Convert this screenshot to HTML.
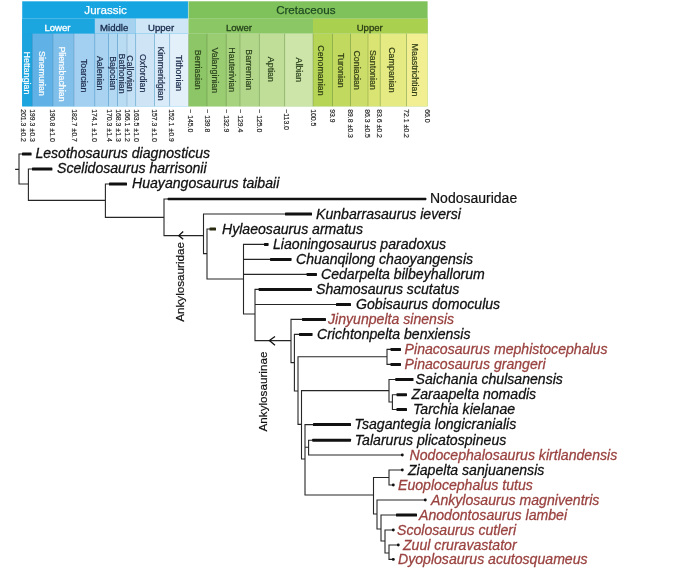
<!DOCTYPE html>
<html lang="en"><head><meta charset="utf-8"><title>Ankylosaur phylogeny</title>
<style>
html,body{margin:0;padding:0;background:#fff;}
body{width:700px;height:574px;overflow:hidden;}
svg{display:block;font-family:"Liberation Sans",Arial,sans-serif;}
.tx{font-size:14.1px;font-style:italic;stroke-width:0.28px;}
.nd{font-size:14px;fill:#111;stroke:#111;stroke-width:0.2px;}
.cl{font-size:11.7px;fill:#111;stroke:#111;stroke-width:0.2px;}
.pe{font-size:11.6px;stroke-width:0.25px;}
.ep{font-size:9.6px;stroke-width:0.3px;}
.st{font-size:8.9px;stroke-width:0.2px;}
.nm{font-size:6.9px;fill:#222;stroke:#222;stroke-width:0.15px;}
</style></head><body>
<svg width="700" height="574" viewBox="0 0 700 574">
<rect width="700" height="574" fill="#fff"/>
<rect x="22.2" y="1.3" width="166.20000000000002" height="105.0" fill="#17a5e1"/>
<rect x="188.4" y="1.3" width="239.20000000000002" height="105.0" fill="#7fc15b"/>
<rect x="22.2" y="18.6" width="72.6" height="15.0" fill="#1ca6e0"/>
<rect x="94.8" y="18.6" width="40.9" height="15.0" fill="#a6d2ef"/>
<rect x="135.7" y="18.6" width="52.7" height="15.0" fill="#cfe6f6"/>
<rect x="188.4" y="18.6" width="124.6" height="15.0" fill="#8cc765"/>
<rect x="313" y="18.6" width="114.6" height="15.0" fill="#a9d04f"/>
<rect x="22.2" y="33.6" width="10.0" height="72.7" fill="#1ca4de"/>
<rect x="32.2" y="33.6" width="20.8" height="72.7" fill="#60b2e6"/>
<rect x="53" y="33.6" width="21.0" height="72.7" fill="#81bfeb"/>
<rect x="74" y="33.6" width="20.8" height="72.7" fill="#a3cff0"/>
<rect x="94.8" y="33.6" width="13.6" height="72.7" fill="#a9d3f0"/>
<rect x="108.4" y="33.6" width="9.1" height="72.7" fill="#b2d8f2"/>
<rect x="117.5" y="33.6" width="9.5" height="72.7" fill="#badcf3"/>
<rect x="127" y="33.6" width="8.7" height="72.7" fill="#c3e0f4"/>
<rect x="135.7" y="33.6" width="18.9" height="72.7" fill="#cfe5f6"/>
<rect x="154.6" y="33.6" width="15.1" height="72.7" fill="#d9ebf8"/>
<rect x="169.7" y="33.6" width="18.7" height="72.7" fill="#e3f0fa"/>
<rect x="188.4" y="33.6" width="18.6" height="72.7" fill="#8dc666"/>
<rect x="207" y="33.6" width="19.2" height="72.7" fill="#9acc72"/>
<rect x="226.2" y="33.6" width="13.8" height="72.7" fill="#a7d27e"/>
<rect x="240" y="33.6" width="19.3" height="72.7" fill="#b3d78a"/>
<rect x="259.3" y="33.6" width="25.4" height="72.7" fill="#c1de99"/>
<rect x="284.7" y="33.6" width="28.3" height="72.7" fill="#cee5aa"/>
<rect x="313" y="33.6" width="19.4" height="72.7" fill="#b6d557"/>
<rect x="332.4" y="33.6" width="18.1" height="72.7" fill="#c1d95f"/>
<rect x="350.5" y="33.6" width="17.5" height="72.7" fill="#ccde69"/>
<rect x="368" y="33.6" width="12.2" height="72.7" fill="#d9e473"/>
<rect x="380.2" y="33.6" width="26.4" height="72.7" fill="#e6ea82"/>
<rect x="406.6" y="33.6" width="21.0" height="72.7" fill="#f2ef93"/>
<rect x="31.8" y="33.6" width="0.8" height="72.7" fill="rgba(40,90,140,0.28)"/>
<rect x="52.6" y="33.6" width="0.8" height="72.7" fill="rgba(40,90,140,0.28)"/>
<rect x="73.6" y="33.6" width="0.8" height="72.7" fill="rgba(40,90,140,0.28)"/>
<rect x="94.4" y="33.6" width="0.8" height="72.7" fill="rgba(40,90,140,0.28)"/>
<rect x="108.0" y="33.6" width="0.8" height="72.7" fill="rgba(40,90,140,0.28)"/>
<rect x="117.1" y="33.6" width="0.8" height="72.7" fill="rgba(40,90,140,0.28)"/>
<rect x="126.6" y="33.6" width="0.8" height="72.7" fill="rgba(40,90,140,0.28)"/>
<rect x="135.3" y="33.6" width="0.8" height="72.7" fill="rgba(40,90,140,0.28)"/>
<rect x="154.2" y="33.6" width="0.8" height="72.7" fill="rgba(40,90,140,0.28)"/>
<rect x="169.3" y="33.6" width="0.8" height="72.7" fill="rgba(40,90,140,0.28)"/>
<rect x="188.0" y="33.6" width="0.8" height="72.7" fill="rgba(60,90,30,0.32)"/>
<rect x="206.6" y="33.6" width="0.8" height="72.7" fill="rgba(60,90,30,0.32)"/>
<rect x="225.8" y="33.6" width="0.8" height="72.7" fill="rgba(60,90,30,0.32)"/>
<rect x="239.6" y="33.6" width="0.8" height="72.7" fill="rgba(60,90,30,0.32)"/>
<rect x="258.9" y="33.6" width="0.8" height="72.7" fill="rgba(60,90,30,0.32)"/>
<rect x="284.3" y="33.6" width="0.8" height="72.7" fill="rgba(60,90,30,0.32)"/>
<rect x="312.6" y="33.6" width="0.8" height="72.7" fill="rgba(60,90,30,0.32)"/>
<rect x="332.0" y="33.6" width="0.8" height="72.7" fill="rgba(60,90,30,0.32)"/>
<rect x="350.1" y="33.6" width="0.8" height="72.7" fill="rgba(60,90,30,0.32)"/>
<rect x="367.6" y="33.6" width="0.8" height="72.7" fill="rgba(60,90,30,0.32)"/>
<rect x="379.8" y="33.6" width="0.8" height="72.7" fill="rgba(60,90,30,0.32)"/>
<rect x="406.2" y="33.6" width="0.8" height="72.7" fill="rgba(60,90,30,0.32)"/>
<rect x="22.2" y="18.200000000000003" width="166.20000000000002" height="0.8" fill="rgba(255,255,255,0.25)"/>
<rect x="188.4" y="18.200000000000003" width="239.20000000000002" height="0.8" fill="rgba(255,255,255,0.22)"/>
<rect x="188.4" y="33.2" width="239.20000000000002" height="0.8" fill="rgba(255,255,255,0.22)"/>
<rect x="187.9" y="1.3" width="1" height="105.0" fill="rgba(255,255,255,0.35)"/>
<text class="st" fill="#fff" stroke="#fff" transform="translate(24.1,73) rotate(90)" text-anchor="middle">Hettangian</text>
<text class="st" fill="#fff" stroke="#fff" transform="translate(38.8,73.5) rotate(90)" text-anchor="middle">Sinemurian</text>
<text class="st" fill="#fff" stroke="#fff" transform="translate(58.8,74) rotate(90)" text-anchor="middle">Pliensbachian</text>
<text class="st" fill="#1b2a4a" stroke="#1b2a4a" transform="translate(80.6,75.7) rotate(90)" text-anchor="middle">Toarcian</text>
<text class="st" fill="#1b2a4a" stroke="#1b2a4a" transform="translate(97.0,73.2) rotate(90)" text-anchor="middle">Aalenian</text>
<text class="st" fill="#1b2a4a" stroke="#1b2a4a" transform="translate(109.8,73.2) rotate(90)" text-anchor="middle">Bajocian</text>
<text class="st" fill="#1b2a4a" stroke="#1b2a4a" transform="translate(118.8,73.6) rotate(90)" text-anchor="middle">Bathonian</text>
<text class="st" fill="#1b2a4a" stroke="#1b2a4a" transform="translate(127.0,73.5) rotate(90)" text-anchor="middle">Callovian</text>
<text class="st" fill="#1b2a4a" stroke="#1b2a4a" transform="translate(140.3,73.2) rotate(90)" text-anchor="middle">Oxfordian</text>
<text class="st" fill="#1b2a4a" stroke="#1b2a4a" transform="translate(157.8,73.5) rotate(90)" text-anchor="middle">Kimmeridgian</text>
<text class="st" fill="#1b2a4a" stroke="#1b2a4a" transform="translate(175.8,73.2) rotate(90)" text-anchor="middle">Tithonian</text>
<text class="st" fill="#2c431d" stroke="#2c431d" transform="translate(194.6,69.8) rotate(90)" text-anchor="middle">Berriasian</text>
<text class="st" fill="#2c431d" stroke="#2c431d" transform="translate(212.2,70.3) rotate(90)" text-anchor="middle">Valanginian</text>
<text class="st" fill="#2c431d" stroke="#2c431d" transform="translate(229.3,69.8) rotate(90)" text-anchor="middle">Hauterivian</text>
<text class="st" fill="#2c431d" stroke="#2c431d" transform="translate(246.1,69.8) rotate(90)" text-anchor="middle">Barremian</text>
<text class="st" fill="#2c431d" stroke="#2c431d" transform="translate(268.4,69.4) rotate(90)" text-anchor="middle">Aptian</text>
<text class="st" fill="#2c431d" stroke="#2c431d" transform="translate(295.8,69.8) rotate(90)" text-anchor="middle">Albian</text>
<text class="st" fill="#2f3d14" stroke="#2f3d14" transform="translate(318.2,70.4) rotate(90)" text-anchor="middle">Cenomanian</text>
<text class="st" fill="#2f3d14" stroke="#2f3d14" transform="translate(337.6,70.4) rotate(90)" text-anchor="middle">Turonian</text>
<text class="st" fill="#2f3d14" stroke="#2f3d14" transform="translate(354.4,70.2) rotate(90)" text-anchor="middle">Coniacian</text>
<text class="st" fill="#2f3d14" stroke="#2f3d14" transform="translate(370.0,69.9) rotate(90)" text-anchor="middle">Santonian</text>
<text class="st" fill="#2f3d14" stroke="#2f3d14" transform="translate(389.1,69.9) rotate(90)" text-anchor="middle">Campanian</text>
<text class="st" fill="#2f3d14" stroke="#2f3d14" transform="translate(412.3,70) rotate(90)" text-anchor="middle">Maastrichtian</text>
<text class="pe" x="105.6" y="14.3" fill="#fff" stroke="#fff" text-anchor="middle">Jurassic</text>
<text class="pe" x="305.8" y="14.1" fill="#1f4a22" stroke="#1f4a22" text-anchor="middle">Cretaceous</text>
<text class="ep" x="57.5" y="30.8" fill="#fff" stroke="#fff" text-anchor="middle">Lower</text>
<text class="ep" x="114.2" y="30.8" fill="#16284a" stroke="#16284a" text-anchor="middle">Middle</text>
<text class="ep" x="161.1" y="30.8" fill="#16284a" stroke="#16284a" text-anchor="middle">Upper</text>
<text class="ep" x="239" y="30.8" fill="#25431a" stroke="#25431a" text-anchor="middle">Lower</text>
<text class="ep" x="369.7" y="30.8" fill="#2c3d14" stroke="#2c3d14" text-anchor="middle">Upper</text>
<text class="nm" transform="translate(20.5,109.2) rotate(90)">201.3 ±0.2</text>
<text class="nm" transform="translate(29.6,109.2) rotate(90)">199.3 ±0.3</text>
<text class="nm" transform="translate(50.2,109.2) rotate(90)">190.8 ±1.0</text>
<text class="nm" transform="translate(72.1,109.2) rotate(90)">182.7 ±0.7</text>
<text class="nm" transform="translate(92.1,109.2) rotate(90)">174.1 ±1.0</text>
<text class="nm" transform="translate(106.8,109.2) rotate(90)">170.3 ±1.4</text>
<text class="nm" transform="translate(115.8,109.2) rotate(90)">168.3 ±1.3</text>
<text class="nm" transform="translate(124.8,109.2) rotate(90)">166.1 ±1.2</text>
<text class="nm" transform="translate(133.8,109.2) rotate(90)">163.5 ±1.0</text>
<text class="nm" transform="translate(151.9,109.2) rotate(90)">157.3 ±1.0</text>
<text class="nm" transform="translate(168.6,109.2) rotate(90)">152.1 ±0.9</text>
<text class="nm" transform="translate(187.6,109.2) rotate(90)">~ 145.0</text>
<text class="nm" transform="translate(204.6,109.2) rotate(90)">~ 139.8</text>
<text class="nm" transform="translate(224.2,109.2) rotate(90)">~ 132.9</text>
<text class="nm" transform="translate(237.8,109.2) rotate(90)">~ 129.4</text>
<text class="nm" transform="translate(256.6,109.2) rotate(90)">~ 125.0</text>
<text class="nm" transform="translate(283.6,109.2) rotate(90)">~113.0</text>
<text class="nm" transform="translate(310.6,109.2) rotate(90)">100.5</text>
<text class="nm" transform="translate(329.9,109.2) rotate(90)">93.9</text>
<text class="nm" transform="translate(347.6,109.2) rotate(90)">89.8 ±0.3</text>
<text class="nm" transform="translate(364.6,109.2) rotate(90)">86.3 ±0.5</text>
<text class="nm" transform="translate(377.1,109.2) rotate(90)">83.6 ±0.2</text>
<text class="nm" transform="translate(404.4,109.2) rotate(90)">72.1 ±0.2</text>
<text class="nm" transform="translate(424.8,109.2) rotate(90)">66.0</text>
<path d="M15.1 169.4L19.0 169.4M19.0 153.5L19.0 184.5M18.5 154.0L23.0 154.0M18.5 184.0L28.4 184.0M28.4 168.5L28.4 200.9M27.9 169.0L33.0 169.0M27.9 200.4L105.4 200.4M105.4 183.5L105.4 217.9M104.9 184.0L110.0 184.0M104.9 217.4L164.0 217.4M164.0 198.5L164.0 236.1M163.5 199.0L168.0 199.0M163.5 235.6L203.5 235.6M203.5 213.5L203.5 254.1M203.0 214.0L286.0 214.0M203.0 253.6L207.0 253.6M207.0 228.5L207.0 279.5M206.5 229.0L210.0 229.0M206.5 279.0L243.5 279.0M243.5 243.9L243.5 314.5M243.0 244.4L265.0 244.4M243.0 259.4L271.0 259.4M243.0 274.4L307.0 274.4M243.0 314.0L255.0 314.0M255.0 288.9L255.0 341.1M254.5 289.4L259.0 289.4M254.5 304.5L337.0 304.5M254.5 340.6L291.0 340.6M291.0 318.9L291.0 363.1M290.5 319.4L303.0 319.4M290.5 362.6L294.4 362.6M294.4 333.9L294.4 391.5M293.9 334.4L300.0 334.4M293.9 391.0L298.0 391.0M298.0 356.3L298.0 424.9M297.5 356.8L387.0 356.8M387.0 348.9L387.0 364.9M386.5 349.4L391.0 349.4M386.5 364.4L391.0 364.4M297.5 424.4L301.5 424.4M301.5 390.1L301.5 459.5M301.0 390.6L389.0 390.6M389.0 379.0L389.0 402.5M388.5 379.5L396.0 379.5M388.5 402.0L392.4 402.0M392.4 394.2L392.4 410.0M391.9 394.7L397.0 394.7M391.9 409.5L397.0 409.5M301.0 459.0L305.0 459.0M305.0 424.1L305.0 495.5M304.5 424.6L314.0 424.6M304.5 447.3L308.6 447.3M308.6 439.7L308.6 455.5M308.1 440.2L313.0 440.2M308.1 455.0L402.0 455.0M304.5 495.0L373.5 495.0M373.5 477.0L373.5 514.5M373.0 477.5L389.0 477.5M389.0 469.5L389.0 485.5M388.5 470.0L402.0 470.0M388.5 485.0L393.0 485.0M373.0 514.0L377.0 514.0M377.0 499.5L377.0 529.5M376.5 500.0L425.0 500.0M376.5 529.0L381.0 529.0M381.0 514.5L381.0 541.5M380.5 515.0L397.0 515.0M380.5 541.0L385.0 541.0M385.0 529.5L385.0 553.5M384.5 530.0L393.0 530.0M384.5 553.0L389.0 553.0M389.0 544.5L389.0 559.9M388.5 545.0L398.0 545.0M388.5 559.4L393.0 559.4" stroke="#262626" stroke-width="1.1" fill="none"/>
<rect x="22.0" y="152.50" width="9.6" height="3.0" rx="0.6" fill="#111"/>
<rect x="32.0" y="167.50" width="20.4" height="3.0" rx="0.6" fill="#111"/>
<rect x="109.0" y="182.50" width="18.0" height="3.0" rx="0.6" fill="#111"/>
<rect x="167.6" y="197.80" width="258.8" height="2.4" rx="0.6" fill="#111"/>
<rect x="285.0" y="212.50" width="27.0" height="3.0" rx="0.6" fill="#111"/>
<rect x="209.5" y="227.50" width="6.5" height="3" rx="0.6" fill="#2a2a10"/>
<rect x="264.0" y="242.90" width="4.6" height="3.0" rx="0.6" fill="#111"/>
<rect x="270.0" y="257.90" width="21.6" height="3.0" rx="0.6" fill="#111"/>
<rect x="306.6" y="272.90" width="10.4" height="3.0" rx="0.6" fill="#111"/>
<rect x="258.6" y="287.90" width="53.4" height="3.0" rx="0.6" fill="#111"/>
<rect x="336.0" y="303.00" width="15.0" height="3.0" rx="0.6" fill="#111"/>
<rect x="302.0" y="317.90" width="24.0" height="3.0" rx="0.6" fill="#111"/>
<rect x="299.0" y="332.90" width="13.6" height="3.0" rx="0.6" fill="#111"/>
<rect x="390.5" y="347.90" width="10.5" height="3.0" rx="0.6" fill="#111"/>
<rect x="390.5" y="362.90" width="10.5" height="3.0" rx="0.6" fill="#111"/>
<rect x="395.3" y="378.00" width="18.2" height="3.0" rx="0.6" fill="#111"/>
<rect x="396.5" y="393.20" width="10.5" height="3.0" rx="0.6" fill="#111"/>
<rect x="396.5" y="408.00" width="10.5" height="3.0" rx="0.6" fill="#111"/>
<rect x="313.0" y="423.10" width="38.0" height="3.0" rx="0.6" fill="#111"/>
<rect x="312.2" y="438.70" width="38.8" height="3.0" rx="0.6" fill="#111"/>
<rect x="396.0" y="513.50" width="21.0" height="3.0" rx="0.6" fill="#111"/>
<circle cx="402.3" cy="455.0" r="1.45" fill="#111"/>
<circle cx="402.3" cy="470.0" r="1.45" fill="#111"/>
<circle cx="393.3" cy="485.0" r="1.45" fill="#111"/>
<circle cx="425.3" cy="500.0" r="1.45" fill="#111"/>
<circle cx="393.3" cy="530.0" r="1.45" fill="#111"/>
<circle cx="398.3" cy="545.0" r="1.45" fill="#111"/>
<circle cx="393.3" cy="559.4" r="1.45" fill="#111"/>
<path d="M183.2 231.6L178.8 235.6L183.2 239.2" stroke="#111" stroke-width="1.3" fill="none"/>
<path d="M275 336.4L269.4 340.6L275 345.2" stroke="#111" stroke-width="1.3" fill="none"/>
<text class="cl" transform="translate(184.3,321.8) rotate(-90)">Ankylosauridae</text>
<text class="cl" transform="translate(267.1,431.5) rotate(-90)">Ankylosaurinae</text>
<text class="tx" x="35.4" y="157.7" fill="#111" stroke="#111">Lesothosaurus diagnosticus</text>
<text class="tx" x="57" y="172.7" fill="#111" stroke="#111">Scelidosaurus harrisonii</text>
<text class="tx" x="132" y="187.7" fill="#111" stroke="#111">Huayangosaurus taibaii</text>
<text class="tx" x="316" y="218.5" fill="#111" stroke="#111">Kunbarrasaurus ieversi</text>
<text class="tx" x="222" y="233.5" fill="#111" stroke="#111">Hylaeosaurus armatus</text>
<text class="tx" x="273" y="248.9" fill="#111" stroke="#111">Liaoningosaurus paradoxus</text>
<text class="tx" x="296" y="263.9" fill="#111" stroke="#111">Chuanqilong chaoyangensis</text>
<text class="tx" x="321" y="278.9" fill="#111" stroke="#111">Cedarpelta bilbeyhallorum</text>
<text class="tx" x="316" y="293.9" fill="#111" stroke="#111">Shamosaurus scutatus</text>
<text class="tx" x="356" y="309.0" fill="#111" stroke="#111">Gobisaurus domoculus</text>
<text class="tx" x="328" y="323.9" fill="#9a4340" stroke="#9a4340">Jinyunpelta sinensis</text>
<text class="tx" x="317" y="338.9" fill="#111" stroke="#111">Crichtonpelta benxiensis</text>
<text class="tx" x="404.6" y="353.9" fill="#9a4340" stroke="#9a4340">Pinacosaurus mephistocephalus</text>
<text class="tx" x="404.6" y="368.9" fill="#9a4340" stroke="#9a4340">Pinacosaurus grangeri</text>
<text class="tx" x="415.6" y="384.0" fill="#111" stroke="#111">Saichania chulsanensis</text>
<text class="tx" x="411.6" y="399.2" fill="#111" stroke="#111">Zaraapelta nomadis</text>
<text class="tx" x="413" y="414.0" fill="#111" stroke="#111">Tarchia kielanae</text>
<text class="tx" x="354.6" y="429.1" fill="#111" stroke="#111">Tsagantegia longicranialis</text>
<text class="tx" x="354.8" y="444.7" fill="#111" stroke="#111">Talarurus plicatospineus</text>
<text class="tx" x="409.6" y="459.5" fill="#9a4340" stroke="#9a4340">Nodocephalosaurus kirtlandensis</text>
<text class="tx" x="408" y="474.5" fill="#111" stroke="#111">Ziapelta sanjuanensis</text>
<text class="tx" x="398" y="489.5" fill="#9a4340" stroke="#9a4340">Euoplocephalus tutus</text>
<text class="tx" x="431" y="504.5" fill="#9a4340" stroke="#9a4340">Ankylosaurus magniventris</text>
<text class="tx" x="419" y="519.5" fill="#9a4340" stroke="#9a4340">Anodontosaurus lambei</text>
<text class="tx" x="397" y="534.5" fill="#9a4340" stroke="#9a4340">Scolosaurus cutleri</text>
<text class="tx" x="403" y="549.5" fill="#9a4340" stroke="#9a4340">Zuul cruravastator</text>
<text class="tx" x="398" y="563.9" fill="#9a4340" stroke="#9a4340">Dyoplosaurus acutosquameus</text>
<text class="nd" x="430" y="203.1">Nodosauridae</text>
</svg>
</body></html>
